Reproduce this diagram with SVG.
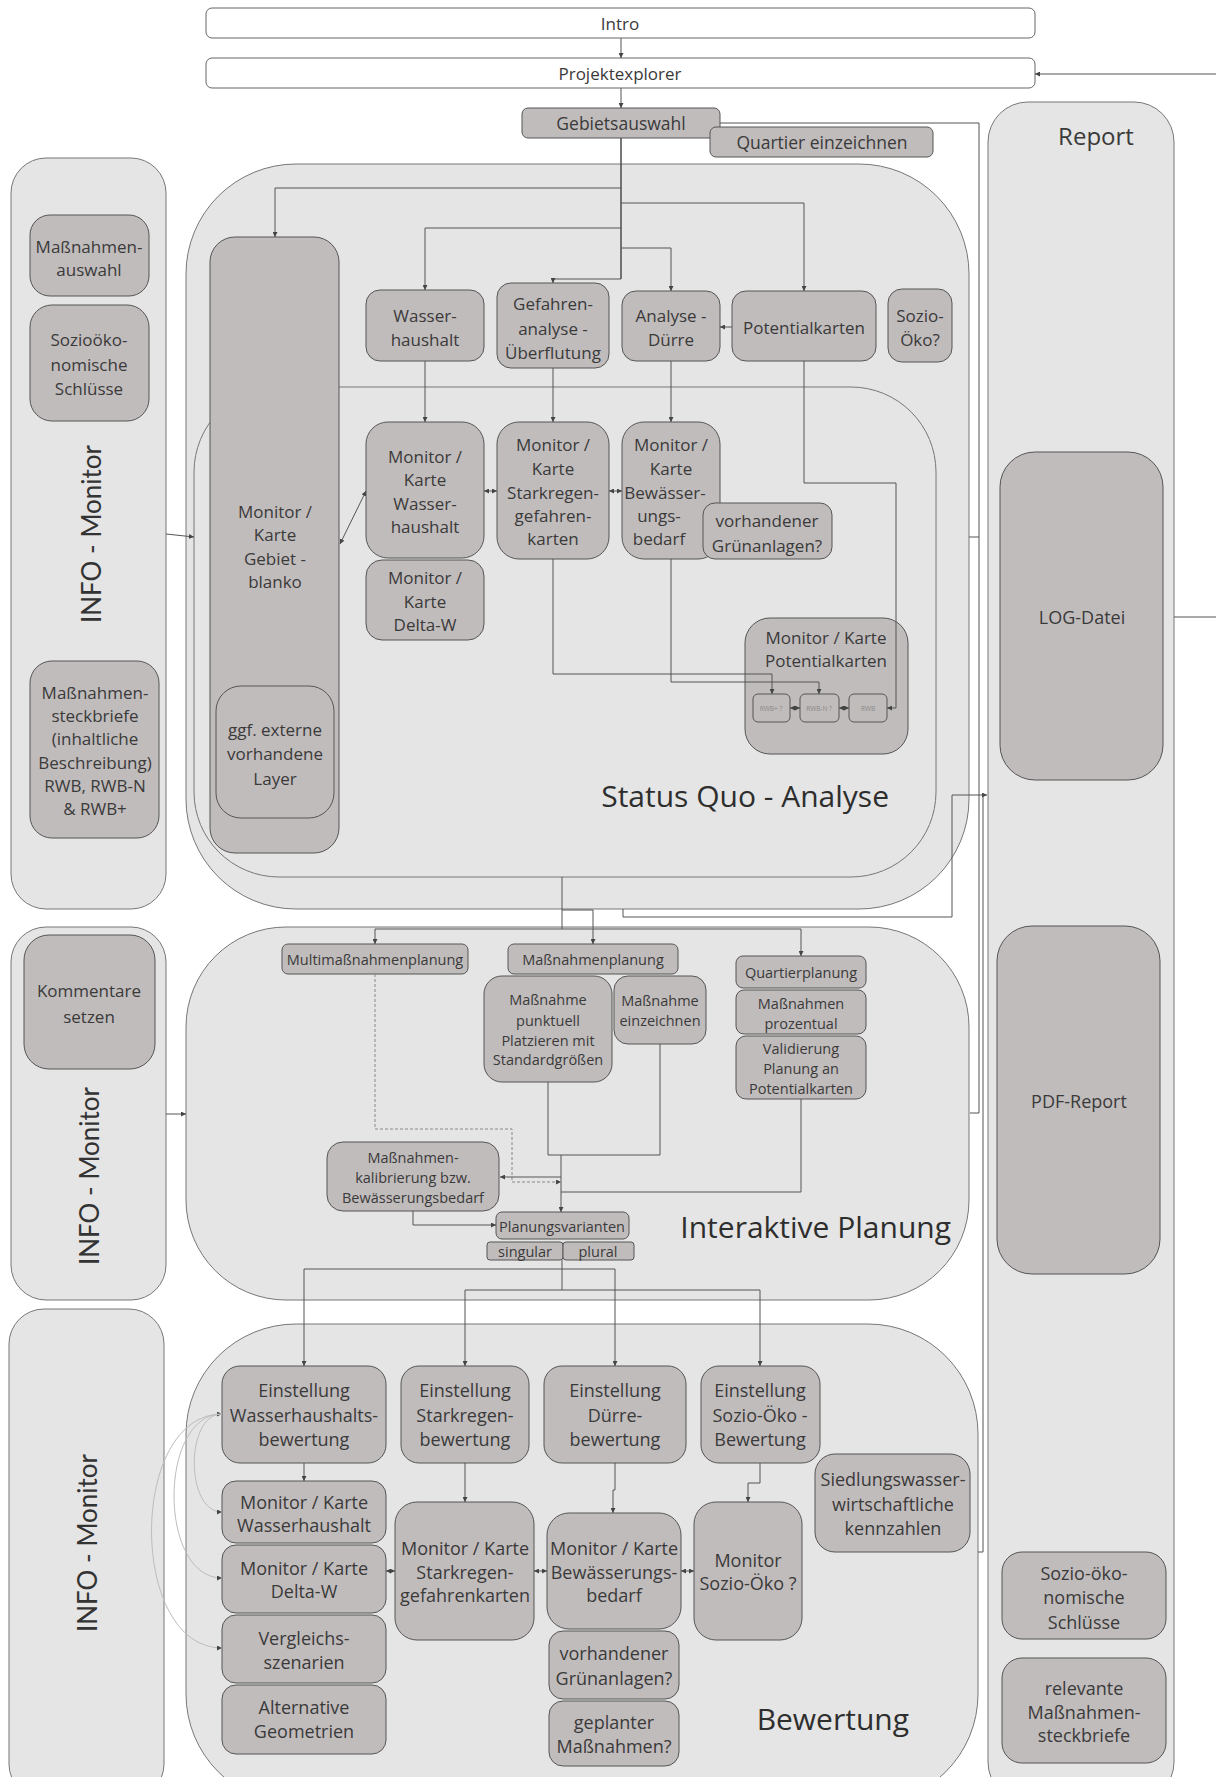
<svg xmlns="http://www.w3.org/2000/svg" width="1216" height="1777" viewBox="0 0 1216 1777">
<defs>
<style>
.panel{fill:#e5e5e5;stroke:#777;stroke-width:1}
.box{fill:#c1bcbc;stroke:#555;stroke-width:1}
.wbox{fill:#fff;stroke:#666;stroke-width:1}
.t{font-family:"Open Sans","Liberation Sans",sans-serif;fill:#3a3a3a;text-anchor:middle;dominant-baseline:central;font-size:18px}
.s{font-size:14.5px}
.m{font-size:17px}
.big{font-family:"Open Sans","Liberation Sans",sans-serif;fill:#2e2e2e;font-size:30px;text-anchor:end}
.info{font-family:"Lato","Liberation Sans",sans-serif;fill:#333;font-size:26px;text-anchor:middle;dominant-baseline:central}
.tiny{font-family:"Open Sans","Liberation Sans",sans-serif;fill:#888;font-size:6.5px;text-anchor:middle;dominant-baseline:central}
.c{fill:none;stroke:#555;stroke-width:1}
.d{fill:none;stroke:#888;stroke-width:1;stroke-dasharray:3,2}
.g{fill:none;stroke:#bdbdbd;stroke-width:1}
</style>
<marker id="a" viewBox="0 0 6 6" refX="6" refY="3" markerWidth="5" markerHeight="5" markerUnits="userSpaceOnUse" orient="auto-start-reverse"><path d="M0,0 L6,3 L0,6 z" fill="#444"/></marker>
</defs>
<rect width="1216" height="1777" fill="#fff"/>

<!-- panels -->
<g id="info1"><rect class="panel" x="11" y="158" width="155" height="751" rx="35"/><text class="info" transform="translate(91,534) rotate(-90)">INFO - Monitor</text></g>
<g id="info2"><rect class="panel" x="11" y="927" width="155" height="373" rx="35"/><text class="info" transform="translate(89,1176) rotate(-90)">INFO - Monitor</text></g>
<g id="info3"><rect class="panel" x="9" y="1309" width="155" height="490" rx="35"/><text class="info" transform="translate(87,1543) rotate(-90)">INFO - Monitor</text></g>
<g id="report"><rect class="panel" x="988" y="102" width="186" height="1700" rx="40"/><text class="t" x="1096" y="135" style="font-size:24px">Report</text></g>
<g id="statusquo"><rect class="panel" x="186" y="164" width="783" height="745" rx="110"/><rect class="panel" x="194" y="387" width="742" height="490" rx="85"/><text class="big" x="889" y="807">Status Quo - Analyse</text></g>
<g id="planung"><rect class="panel" x="186" y="927" width="783" height="373" rx="100"/><text class="big" x="951" y="1238">Interaktive Planung</text></g>
<g id="bewertung"><rect class="panel" x="186" y="1324" width="792" height="480" rx="110"/><text class="big" x="909" y="1730">Bewertung</text></g>

<!-- top -->
<g id="intro"><rect class="wbox" x="206" y="8" width="829" height="30" rx="6"/><text class="t m" x="620" y="23">Intro</text></g>
<g id="projektexplorer"><rect class="wbox" x="206" y="58" width="829" height="30" rx="6"/><text class="t m" x="620" y="73">Projektexplorer</text></g>
<g id="gebietsauswahl"><rect class="box" x="522" y="108" width="198" height="30" rx="6"/><text class="t" x="621" y="123" style="font-size:17.5px">Gebietsauswahl</text></g>
<g id="quartier"><rect class="box" x="710" y="127" width="223" height="30" rx="6"/><text class="t" x="822" y="142" style="font-size:17.5px">Quartier einzeichnen</text></g>

<!-- left info items -->
<g id="massnahmenauswahl"><rect class="box" x="30" y="215" width="119" height="81" rx="20"/><text class="t m" x="89"><tspan x="89" y="246">Maßnahmen-</tspan><tspan x="89" y="269">auswahl</tspan></text></g>
<g id="sozio1"><rect class="box" x="30" y="305" width="119" height="116" rx="22"/><text class="t m"><tspan x="89" y="339">Sozioöko-</tspan><tspan x="89" y="364">nomische</tspan><tspan x="89" y="388">Schlüsse</tspan></text></g>
<g id="steckbriefe1"><rect class="box" x="30" y="661" width="129" height="177" rx="22"/><text class="t m"><tspan x="95" y="692">Maßnahmen-</tspan><tspan x="95" y="715">steckbriefe</tspan><tspan x="95" y="738">(inhaltliche</tspan><tspan x="95" y="762">Beschreibung)</tspan><tspan x="95" y="785">RWB, RWB-N</tspan><tspan x="95" y="808">&amp; RWB+</tspan></text></g>
<g id="kommentare"><rect class="box" x="24" y="935" width="131" height="134" rx="25"/><text class="t m"><tspan x="89" y="990">Kommentare</tspan><tspan x="89" y="1016">setzen</tspan></text></g>

<!-- status quo nodes -->
<g id="gebiet"><rect class="box" x="210" y="237" width="129" height="616" rx="25"/><text class="t m"><tspan x="275" y="511">Monitor /</tspan><tspan x="275" y="534">Karte</tspan><tspan x="275" y="558">Gebiet -</tspan><tspan x="275" y="581">blanko</tspan></text></g>
<g id="extern"><rect class="box" x="216" y="686" width="118" height="132" rx="25"/><text class="t m"><tspan x="275" y="729">ggf. externe</tspan><tspan x="275" y="753">vorhandene</tspan><tspan x="275" y="778">Layer</tspan></text></g>
<g id="wasserhaushalt"><rect class="box" x="366" y="290" width="118" height="71" rx="14"/><text class="t m"><tspan x="425" y="315">Wasser-</tspan><tspan x="425" y="339">haushalt</tspan></text></g>
<g id="gefahren"><rect class="box" x="497" y="283" width="112" height="85" rx="14"/><text class="t m"><tspan x="553" y="303">Gefahren-</tspan><tspan x="553" y="328">analyse -</tspan><tspan x="553" y="352">Überflutung</tspan></text></g>
<g id="duerre"><rect class="box" x="622" y="291" width="98" height="70" rx="14"/><text class="t m"><tspan x="671" y="315">Analyse -</tspan><tspan x="671" y="339">Dürre</tspan></text></g>
<g id="potentialkarten"><rect class="box" x="732" y="291" width="144" height="70" rx="14"/><text class="t m" x="804" y="327">Potentialkarten</text></g>
<g id="soziooeko"><rect class="box" x="888" y="289" width="64" height="73" rx="14"/><text class="t m"><tspan x="920" y="315">Sozio-</tspan><tspan x="920" y="339">Öko?</tspan></text></g>
<g id="mk-wasser"><rect class="box" x="366" y="422" width="118" height="136" rx="22"/><text class="t m"><tspan x="425" y="456">Monitor /</tspan><tspan x="425" y="479">Karte</tspan><tspan x="425" y="503">Wasser-</tspan><tspan x="425" y="526">haushalt</tspan></text></g>
<g id="mk-delta"><rect class="box" x="366" y="560" width="118" height="80" rx="16"/><text class="t m"><tspan x="425" y="577">Monitor /</tspan><tspan x="425" y="601">Karte</tspan><tspan x="425" y="624">Delta-W</tspan></text></g>
<g id="mk-stark"><rect class="box" x="497" y="422" width="112" height="137" rx="22"/><text class="t m"><tspan x="553" y="444">Monitor /</tspan><tspan x="553" y="468">Karte</tspan><tspan x="553" y="492">Starkregen-</tspan><tspan x="553" y="515">gefahren-</tspan><tspan x="553" y="538">karten</tspan></text></g>
<g id="mk-bew"><rect class="box" x="622" y="422" width="98" height="137" rx="22"/><text class="t m"><tspan x="671" y="444">Monitor /</tspan><tspan x="671" y="468">Karte</tspan><tspan x="665" y="492">Bewässer-</tspan><tspan x="659" y="515">ungs-</tspan><tspan x="659" y="538">bedarf</tspan></text></g>
<g id="gruen1"><rect class="box" x="703" y="503" width="129" height="56" rx="12"/><text class="t m"><tspan x="767" y="520">vorhandener</tspan><tspan x="767" y="545">Grünanlagen?</tspan></text></g>
<g id="mk-pot"><rect class="box" x="745" y="618" width="163" height="136" rx="25"/><text class="t m"><tspan x="826" y="637">Monitor / Karte</tspan><tspan x="826" y="660">Potentialkarten</tspan></text></g>
<g id="rwbplus"><rect class="box" x="753" y="694" width="37" height="28" rx="5"/><text class="tiny" x="771" y="708">RWB+ ?</text></g>
<g id="rwbn"><rect class="box" x="800" y="694" width="39" height="28" rx="5"/><text class="tiny" x="819" y="708">RWB-N ?</text></g>
<g id="rwb"><rect class="box" x="849" y="694" width="38" height="28" rx="5"/><text class="tiny" x="868" y="708">RWB</text></g>

<!-- planung nodes -->
<g id="multi"><rect class="box" x="282" y="944" width="186" height="30" rx="6"/><text class="t s" x="375" y="959">Multimaßnahmenplanung</text></g>
<g id="mplanung"><rect class="box" x="508" y="944" width="170" height="30" rx="6"/><text class="t s" x="593" y="959">Maßnahmenplanung</text></g>
<g id="punktuell"><rect class="box" x="484" y="976" width="128" height="106" rx="18"/><text class="t s"><tspan x="548" y="999">Maßnahme</tspan><tspan x="548" y="1020">punktuell</tspan><tspan x="548" y="1040">Platzieren mit</tspan><tspan x="548" y="1059">Standardgrößen</tspan></text></g>
<g id="einzeichnen"><rect class="box" x="614" y="976" width="92" height="68" rx="14"/><text class="t s"><tspan x="660" y="1000">Maßnahme</tspan><tspan x="660" y="1020">einzeichnen</tspan></text></g>
<g id="qplanung"><rect class="box" x="736" y="956" width="130" height="32" rx="7"/><text class="t s" x="801" y="972">Quartierplanung</text></g>
<g id="prozentual"><rect class="box" x="736" y="990" width="130" height="44" rx="8"/><text class="t s"><tspan x="801" y="1003">Maßnahmen</tspan><tspan x="801" y="1023">prozentual</tspan></text></g>
<g id="validierung"><rect class="box" x="736" y="1036" width="130" height="63" rx="10"/><text class="t s"><tspan x="801" y="1048">Validierung</tspan><tspan x="801" y="1068">Planung an</tspan><tspan x="801" y="1088">Potentialkarten</tspan></text></g>
<g id="kalibrierung"><rect class="box" x="327" y="1142" width="172" height="69" rx="16"/><text class="t s"><tspan x="413" y="1157">Maßnahmen-</tspan><tspan x="413" y="1177">kalibrierung bzw.</tspan><tspan x="413" y="1197">Bewässerungsbedarf</tspan></text></g>
<g id="varianten"><rect class="box" x="496" y="1212" width="133" height="27" rx="6"/><text class="t s" x="562" y="1226">Planungsvarianten</text></g>
<g id="singular"><rect class="box" x="487" y="1242" width="76" height="18" rx="3"/><text class="t s" x="525" y="1251">singular</text></g>
<g id="plural"><rect class="box" x="563" y="1242" width="71" height="18" rx="3"/><text class="t s" x="598" y="1251">plural</text></g>

<!-- bewertung nodes -->
<g id="e-wasser"><rect class="box" x="222" y="1366" width="164" height="97" rx="18"/><text class="t"><tspan x="304" y="1390">Einstellung</tspan><tspan x="304" y="1415">Wasserhaushalts-</tspan><tspan x="304" y="1439">bewertung</tspan></text></g>
<g id="e-stark"><rect class="box" x="401" y="1366" width="128" height="97" rx="18"/><text class="t"><tspan x="465" y="1390">Einstellung</tspan><tspan x="465" y="1415">Starkregen-</tspan><tspan x="465" y="1439">bewertung</tspan></text></g>
<g id="e-duerre"><rect class="box" x="544" y="1366" width="142" height="97" rx="18"/><text class="t"><tspan x="615" y="1390">Einstellung</tspan><tspan x="615" y="1415">Dürre-</tspan><tspan x="615" y="1439">bewertung</tspan></text></g>
<g id="e-sozio"><rect class="box" x="701" y="1366" width="119" height="97" rx="18"/><text class="t"><tspan x="760" y="1390">Einstellung</tspan><tspan x="760" y="1415">Sozio-Öko -</tspan><tspan x="760" y="1439">Bewertung</tspan></text></g>
<g id="b-mk-wasser"><rect class="box" x="222" y="1481" width="164" height="62" rx="14"/><text class="t"><tspan x="304" y="1502">Monitor / Karte</tspan><tspan x="304" y="1525">Wasserhaushalt</tspan></text></g>
<g id="b-mk-delta"><rect class="box" x="222" y="1545" width="164" height="68" rx="14"/><text class="t"><tspan x="304" y="1568">Monitor / Karte</tspan><tspan x="304" y="1591">Delta-W</tspan></text></g>
<g id="vergleich"><rect class="box" x="222" y="1615" width="164" height="68" rx="14"/><text class="t"><tspan x="304" y="1638">Vergleichs-</tspan><tspan x="304" y="1662">szenarien</tspan></text></g>
<g id="geometrien"><rect class="box" x="222" y="1685" width="164" height="69" rx="14"/><text class="t"><tspan x="304" y="1707">Alternative</tspan><tspan x="304" y="1731">Geometrien</tspan></text></g>
<g id="b-mk-stark"><rect class="box" x="395" y="1502" width="139" height="138" rx="22"/><text class="t"><tspan x="465" y="1548">Monitor / Karte</tspan><tspan x="465" y="1572">Starkregen-</tspan><tspan x="465" y="1595">gefahrenkarten</tspan></text></g>
<g id="b-mk-bew"><rect class="box" x="547" y="1513" width="134" height="116" rx="22"/><text class="t"><tspan x="614" y="1548">Monitor / Karte</tspan><tspan x="614" y="1572">Bewässerungs-</tspan><tspan x="614" y="1595">bedarf</tspan></text></g>
<g id="gruen2"><rect class="box" x="549" y="1631" width="130" height="68" rx="14"/><text class="t"><tspan x="614" y="1653">vorhandener</tspan><tspan x="614" y="1678">Grünanlagen?</tspan></text></g>
<g id="geplant"><rect class="box" x="549" y="1701" width="130" height="65" rx="14"/><text class="t"><tspan x="614" y="1722">geplanter</tspan><tspan x="614" y="1746">Maßnahmen?</tspan></text></g>
<g id="b-sozio"><rect class="box" x="694" y="1502" width="108" height="138" rx="22"/><text class="t"><tspan x="748" y="1560">Monitor</tspan><tspan x="748" y="1583">Sozio-Öko ?</tspan></text></g>
<g id="siedlung"><rect class="box" x="815" y="1454" width="155" height="98" rx="20"/><text class="t"><tspan x="893" y="1479">Siedlungswasser-</tspan><tspan x="893" y="1504">wirtschaftliche</tspan><tspan x="893" y="1528">kennzahlen</tspan></text></g>

<!-- report nodes -->
<g id="log"><rect class="box" x="1000" y="452" width="163" height="328" rx="35"/><text class="t" x="1082" y="617">LOG-Datei</text></g>
<g id="pdf"><rect class="box" x="997" y="926" width="163" height="348" rx="35"/><text class="t" x="1079" y="1101">PDF-Report</text></g>
<g id="sozio2"><rect class="box" x="1002" y="1552" width="164" height="87" rx="20"/><text class="t"><tspan x="1084" y="1573">Sozio-öko-</tspan><tspan x="1084" y="1597">nomische</tspan><tspan x="1084" y="1622">Schlüsse</tspan></text></g>
<g id="steckbriefe2"><rect class="box" x="1002" y="1658" width="164" height="105" rx="20"/><text class="t"><tspan x="1084" y="1688">relevante</tspan><tspan x="1084" y="1712">Maßnahmen-</tspan><tspan x="1084" y="1735">steckbriefe</tspan></text></g>

<!-- connectors -->
<g id="connectors">
<path class="c" marker-end="url(#a)" d="M621,38 V58"/>
<path class="c" marker-end="url(#a)" d="M621,88 V108"/>
<path class="c" marker-end="url(#a)" d="M1216,74 H1035"/>
<path class="c" d="M1174,617 H1216"/>
<path class="c" style="stroke-width:1.6" d="M621,138 V279"/>
<path class="c" marker-end="url(#a)" d="M621,188 H275 V237"/>
<path class="c" marker-end="url(#a)" d="M621,228 H425 V290"/>
<path class="c" marker-end="url(#a)" d="M621,203 H804 V291"/>
<path class="c" marker-end="url(#a)" d="M621,248 H671 V291"/>
<path class="c" marker-end="url(#a)" d="M621,279 H553 V283"/>
<path class="c" marker-end="url(#a)" d="M732,327 H720"/>
<path class="c" marker-end="url(#a)" d="M425,361 V422"/>
<path class="c" marker-end="url(#a)" d="M553,368 V422"/>
<path class="c" marker-end="url(#a)" d="M671,361 V422"/>
<path class="c" marker-start="url(#a)" marker-end="url(#a)" d="M484,491 H497"/>
<path class="c" marker-start="url(#a)" marker-end="url(#a)" d="M609,491 H622"/>
<path class="c" marker-start="url(#a)" marker-end="url(#a)" d="M340,544 L366,491"/>
<path class="c" marker-end="url(#a)" d="M553,559 V674 H772 V694"/>
<path class="c" marker-end="url(#a)" d="M671,559 V682 H819 V694"/>
<path class="c" marker-end="url(#a)" d="M804,361 V483 H896 V708 H887"/>
<path class="c" marker-start="url(#a)" marker-end="url(#a)" d="M790,708 H800"/>
<path class="c" marker-start="url(#a)" marker-end="url(#a)" d="M839,708 H849"/>
<path class="c" marker-end="url(#a)" d="M166,534 L194,537"/>
<path class="c" d="M720,123 H979 V1113 H970"/>
<path class="c" d="M969,537 H979"/>
<path class="c" marker-end="url(#a)" d="M623,909 V917 H952 V795 H987"/>
<path class="c" d="M983,795 V1552 H978"/>
<path class="c" d="M562,877 V929"/>
<path class="c" marker-end="url(#a)" d="M562,910 H593 V944"/>
<path class="c" marker-end="url(#a)" d="M562,929 H375 V944"/>
<path class="c" marker-end="url(#a)" d="M562,929 H801 V956"/>
<path class="c" marker-end="url(#a)" d="M166,1114 H186"/>
<path class="d" marker-end="url(#a)" d="M375,974 V1129 H512 V1182 H561"/>
<path class="c" d="M548,1082 V1155 H660 V1044"/>
<path class="c" marker-end="url(#a)" d="M561,1155 V1212"/>
<path class="c" marker-end="url(#a)" d="M561,1177 H500"/>
<path class="c" d="M801,1099 V1192 H561"/>
<path class="c" marker-end="url(#a)" d="M413,1211 V1225 H496"/>
<path class="c" d="M562,1260 V1290"/>
<path class="c" marker-end="url(#a)" d="M562,1269 H304 V1366"/>
<path class="c" marker-end="url(#a)" d="M562,1269 H615 V1366"/>
<path class="c" marker-end="url(#a)" d="M562,1290 H465 V1366"/>
<path class="c" marker-end="url(#a)" d="M562,1290 H760 V1366"/>
<path class="c" marker-end="url(#a)" d="M304,1463 V1481"/>
<path class="c" marker-end="url(#a)" d="M465,1463 V1502"/>
<path class="c" marker-end="url(#a)" d="M615,1463 V1490 H613 V1513"/>
<path class="c" marker-end="url(#a)" d="M760,1463 V1483 H748 V1502"/>
<path class="c" marker-start="url(#a)" marker-end="url(#a)" d="M386,1571 H395"/>
<path class="c" marker-start="url(#a)" marker-end="url(#a)" d="M534,1571 H547"/>
<path class="c" marker-start="url(#a)" marker-end="url(#a)" d="M681,1571 H694"/>
<path class="g" marker-start="url(#a)" marker-end="url(#a)" d="M222,1414 C185,1414 185,1512 222,1512"/>
<path class="g" marker-end="url(#a)" d="M222,1414 C158,1414 158,1578 222,1578"/>
<path class="g" marker-end="url(#a)" d="M222,1414 C128,1414 128,1648 222,1648"/>
</g>
</svg>
